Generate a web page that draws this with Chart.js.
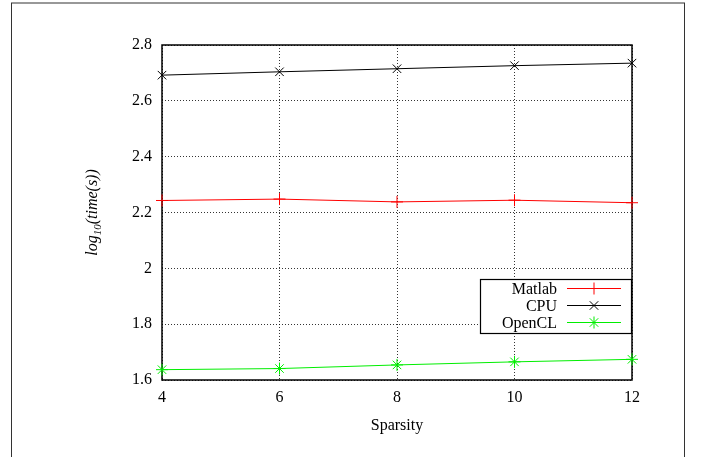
<!DOCTYPE html>
<html>
<head>
<meta charset="utf-8">
<script src="https://cdn.jsdelivr.net/npm/chart.js@4"></script>
<style>
  html, body { margin: 0; padding: 0; background: #fff; }
  #wrap { width: 702px; height: 457px; position: relative; }
</style>
</head>
<body>
<div id="wrap"><canvas id="chart1" width="702" height="457"></canvas></div>
<script>
// sparsity vs log10(time)
const sparsity = [4, 6, 8, 10, 12];
const matlab = [2.243, 2.248, 2.238, 2.244, 2.235];
const cpu = [2.692, 2.704, 2.715, 2.726, 2.735];
const opencl = [1.637, 1.641, 1.654, 1.665, 1.674];
const yTicks = [1.6, 1.8, 2, 2.2, 2.4, 2.6, 2.8];
const xTicks = [4, 6, 8, 10, 12];

const FONT = '"Liberation Serif", "DejaVu Serif", serif';

function pts(vals) {
    return sparsity.map((x, i) => ({ x: x, y: vals[i] }));
}

const series = [
    { label: 'Matlab', data: pts(matlab), color: '#ff0000', style: 'cross' },
    { label: 'CPU', data: pts(cpu), color: '#000000', style: 'crossRot' },
    { label: 'OpenCL', data: pts(opencl), color: '#00ee00', style: 'star' },
];

// frame, plot border, axis title with subscript, and gnuplot-like legend box
const extras = {
    id: 'extras',
    beforeDatasetsDraw(chart) {
        const ctx = chart.ctx;
        const a = chart.chartArea;
        ctx.save();
        ctx.strokeStyle = '#000';
        ctx.lineWidth = 1.5;
        ctx.setLineDash([]);
        ctx.strokeRect(a.left, a.top, a.right - a.left, a.bottom - a.top);
        ctx.restore();
    },
    afterDraw(chart) {
        const ctx = chart.ctx;
        const a = chart.chartArea;
        ctx.save();
        ctx.strokeStyle = '#333';
        ctx.lineWidth = 1;
        ctx.strokeRect(11.5, 3, 673, 470);

        // y title
        ctx.translate(92, (a.top + a.bottom) / 2);
        ctx.rotate(-Math.PI / 2);
        ctx.fillStyle = '#000';
        ctx.textBaseline = 'alphabetic';
        const parts = [['log', 16, 0], ['10', 11, 4], ['(', 16, 0], ['time', 16, 0], ['(', 16, 0], ['s', 16, 0], [')', 16, 0], [')', 16, 0]];
        let w = 0;
        parts.forEach(p => { ctx.font = 'italic ' + p[1] + 'px ' + FONT; w += ctx.measureText(p[0]).width; });
        let x = -w / 2;
        parts.forEach(p => {
            ctx.font = 'italic ' + p[1] + 'px ' + FONT;
            ctx.fillText(p[0], x, 5 + p[2]);
            x += ctx.measureText(p[0]).width;
        });
        ctx.restore();

        // legend
        ctx.save();
        const bx = 480.5, by = 279.5, bw = 151, bh = 54;
        ctx.fillStyle = '#fff';
        ctx.fillRect(bx, by, bw, bh);
        ctx.strokeStyle = '#000';
        ctx.lineWidth = 1.2;
        ctx.strokeRect(bx, by, bw, bh);
        ctx.font = '16px ' + FONT;
        ctx.textAlign = 'right';
        ctx.textBaseline = 'middle';
        series.forEach((s, i) => {
            const y = by + 9 + i * 17;
            ctx.fillStyle = '#000';
            ctx.fillText(s.label, 557, y + 1);
            ctx.strokeStyle = s.color;
            ctx.lineWidth = 1;
            ctx.beginPath();
            ctx.moveTo(567, y);
            ctx.lineTo(621, y);
            ctx.stroke();
            Chart.helpers.drawPoint(ctx, { pointStyle: s.style, radius: 6, borderWidth: 1 }, 594, y);
        });
        ctx.restore();
    }
};

const ctx = document.getElementById('chart1').getContext('2d');
const chart1 = new Chart(ctx, {
    type: 'line',
    data: {
        datasets: series.map(s => ({
            label: s.label,
            data: s.data,
            borderColor: s.color,
            backgroundColor: s.color,
            borderWidth: 1,
            pointStyle: s.style,
            pointRadius: 6,
            pointBorderWidth: 1,
            pointBorderColor: s.color,
            tension: 0,
        })),
    },
    options: {
        responsive: false,
        animation: false,
        clip: false,
        layout: { padding: { left: 0, top: 45, right: 70, bottom: 22 } },
        plugins: {
            legend: { display: false },
            tooltip: { enabled: false },
        },
        scales: {
            x: {
                type: 'linear',
                min: 4,
                max: 12,
                afterBuildTicks: s => { s.ticks = xTicks.map(v => ({ value: v })); },
                afterFit: s => { s.height = 55; },
                border: { display: false, dash: [1, 2] },
                grid: { color: '#000', drawTicks: false, lineWidth: 0.8 },
                ticks: { color: '#000', font: { family: FONT, size: 16 }, padding: 8 },
                title: { display: true, text: 'Sparsity', color: '#000', font: { family: FONT, size: 16 }, padding: { top: 4, bottom: 0 } },
            },
            y: {
                min: 1.6,
                max: 2.8,
                afterBuildTicks: s => { s.ticks = yTicks.map(v => ({ value: v })); },
                afterFit: s => { s.width = 162; },
                border: { display: false, dash: [1, 2] },
                grid: { color: '#000', drawTicks: false, lineWidth: 0.8 },
                ticks: { color: '#000', font: { family: FONT, size: 16 }, padding: 10, callback: v => String(v) },
            },
        },
    },
    plugins: [extras],
});
</script>
</body>
</html>
